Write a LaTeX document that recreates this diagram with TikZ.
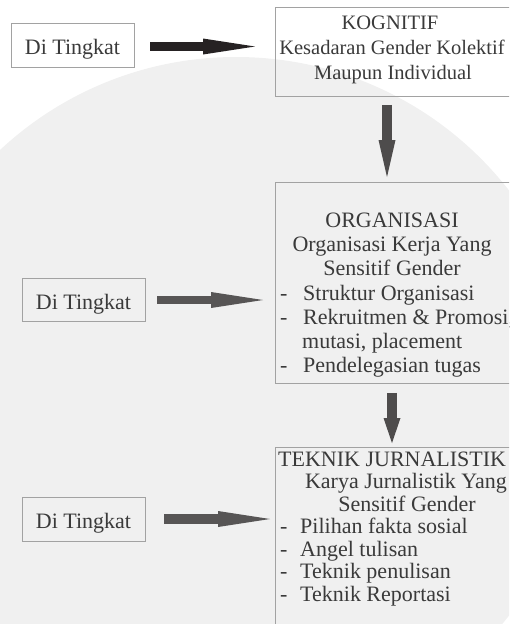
\documentclass[tikz,border=0pt]{standalone}
\usepackage{fontspec}
\setmainfont{Liberation Serif}
\usetikzlibrary{arrows.meta}
\definecolor{txt}{HTML}{3A3A3A}
\definecolor{brd}{HTML}{A2A2A2}
\definecolor{wm}{HTML}{F0F0F0}
\definecolor{arA}{HTML}{262223}
\definecolor{arB}{HTML}{4E4C4C}
\definecolor{arC}{HTML}{575555}
\begin{document}
\begin{tikzpicture}[x=1pt,y=-1pt,
  lvl/.style={draw=brd, line width=0.8pt, minimum width=123pt, minimum height=44pt,
    inner sep=0pt, text=txt, font=\fontsize{22}{24}\selectfont, text height=19pt, text depth=0pt},
  frame/.style={draw=brd, line width=0.8pt, inner sep=0pt, anchor=north west, minimum width=250pt},
  ln/.style={text=txt, inner sep=0pt, anchor=base, font=\fontsize{22}{24}\selectfont},
  lnl/.style={ln, anchor=base west},
  lnt/.style={ln, font=\fontsize{20.5}{24}\selectfont},
  bigarrow/.style args={#1/#2/#3/#4}{draw=#4, line width=#1,
    -{Triangle[length=#2, width=#3, line width=0pt]}}
]
\useasboundingbox (0,0) rectangle (509,624);
\clip (0,0) rectangle (509,624);
% watermark background
\fill[wm] (236,403) circle[radius=346pt];

% boxes
\node[lvl] (l1) at (72.5,45) {Di Tingkat};
\node[lvl, minimum height=43pt] (l2) at (83.5,299.5) {Di Tingkat};
\node[lvl] (l3) at (83.5,519) {Di Tingkat};
\node[frame, minimum height=89pt] (T) at (275,7) {};
\node[frame, minimum height=201pt] (M) at (275,182) {};
\node[frame, minimum height=200pt] (B) at (275,447) {};

% top box text
\node[lnt] (t1) at (390,29) {KOGNITIF};
\node[lnt] (t2) at (392,54) {Kesadaran Gender Kolektif};
\node[lnt] (t3) at (393,79) {Maupun Individual};

% middle box text
\node[ln] (m1) at (392,227) {ORGANISASI};
\node[ln] (m2) at (392,251) {Organisasi Kerja Yang};
\node[ln] (m3) at (392,275) {Sensitif Gender};
\node[lnl] (m4) at (280,300) {\makebox[23pt][l]{-}Struktur Organisasi};
\node[lnl] (m5) at (280,324) {\makebox[23pt][l]{-}Rekruitmen \& Promosi,};
\node[lnl] (m6) at (280,348) {\makebox[22pt][l]{}mutasi, placement};
\node[lnl] (m7) at (280,372) {\makebox[23pt][l]{-}Pendelegasian tugas};

% bottom box text
\node[lnl] (b1) at (278,466) {TEKNIK JURNALISTIK};
\node[ln] (b2) at (406,488.5) {Karya Jurnalistik Yang};
\node[ln] (b3) at (407,511) {Sensitif Gender};
\node[lnl] (b4) at (280,533.5) {\makebox[20pt][l]{-}Pilihan fakta sosial};
\node[lnl] (b5) at (280,556) {\makebox[20pt][l]{-}Angel tulisan};
\node[lnl] (b6) at (280,578.5) {\makebox[20pt][l]{-}Teknik penulisan};
\node[lnl] (b7) at (280,601) {\makebox[20pt][l]{-}Teknik Reportasi};

% helper coordinates
\coordinate (e1) at (l1.east -| T.west);
\coordinate (e2) at (l2.east -| M.west);
\coordinate (e3) at (l3.east -| B.west);

% arrows
\draw[bigarrow=9pt/52pt/16pt/arA] ([xshift=16pt,yshift=-1.5pt]l1.east) -- ([xshift=-20pt,yshift=-1.5pt]e1);
\draw[bigarrow=10pt/37pt/17pt/arB] ([xshift=112pt,yshift=-8pt]T.south west) -- ([xshift=112pt,yshift=5pt]M.north west);
\draw[bigarrow=8.5pt/52pt/16pt/arC] ([xshift=12pt,yshift=-0.5pt]l2.east) -- ([xshift=-12pt,yshift=-0.5pt]e2);
\draw[bigarrow=10pt/25pt/17pt/arB] ([xshift=117pt,yshift=-9pt]M.south west) -- ([xshift=117pt,yshift=4pt]B.north west);
\draw[bigarrow=10pt/52pt/16pt/arC] ([xshift=19pt]l3.east) -- ([xshift=-5pt]e3);
\end{tikzpicture}
\end{document}
